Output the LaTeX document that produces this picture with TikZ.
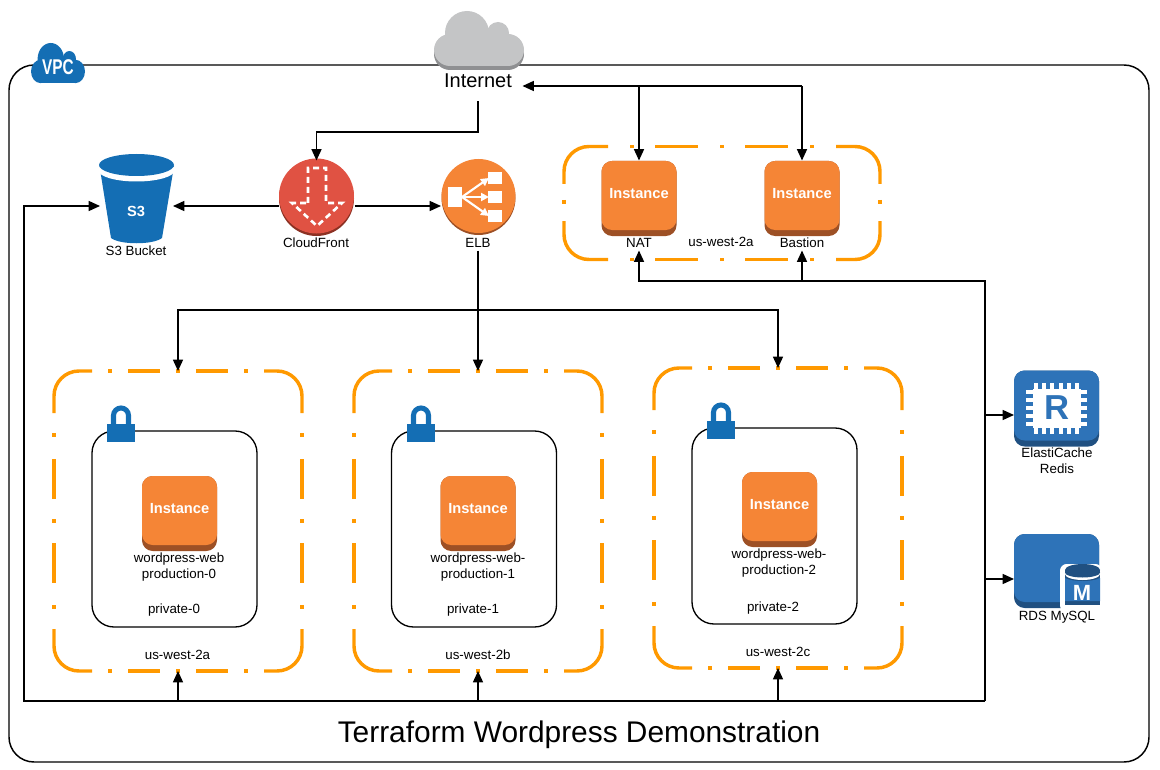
\documentclass[tikz,border=0pt]{standalone}
\usepackage{fontspec}
\setmainfont{Liberation Sans}
\usetikzlibrary{arrows.meta}

\definecolor{awsorange}{RGB}{245,133,54}
\definecolor{awsorangedark}{RGB}{157,80,37}
\definecolor{awsred}{RGB}{224,82,67}
\definecolor{awsreddark}{RGB}{140,49,35}
\definecolor{awsblue}{RGB}{20,110,180}
\definecolor{dbblue}{RGB}{46,115,184}
\definecolor{dbbluedark}{RGB}{32,80,129}
\definecolor{zoneorange}{RGB}{255,153,0}
\definecolor{cloudgrey}{RGB}{196,197,198}
\definecolor{clouddark}{RGB}{143,144,146}

\def\pxu{0.75pt}

\tikzset{every picture/.style={line width=0.75pt}}
\tikzset{
  conn/.style={line width=1.05pt,-{Triangle[length=8.5pt,width=7.5pt]}},
  wire/.style={line width=1.05pt},
  zoneline/.style={draw=zoneorange,line width=2.6pt,rounded corners=18.75pt},
  zonebox/.style={inner sep=0pt,outer sep=0pt,minimum width=248*\pxu,minimum height=300*\pxu},
  privatebox/.style={draw=black,line width=1pt,rounded corners=16.5pt,inner sep=0pt,minimum width=165*\pxu,minimum height=196*\pxu},
  instancedark/.style={fill=awsorangedark,rounded corners=8pt,inner sep=0pt,minimum width=75*\pxu,minimum height=75*\pxu},
  instancelight/.style={fill=awsorange,rounded corners=8pt,inner sep=0pt,minimum width=75*\pxu,minimum height=69*\pxu},
  instancetext/.style={text=white,font=\fontsize{11}{13}\selectfont\bfseries,inner sep=0pt},
  lbl/.style={font=\fontsize{10}{12}\selectfont,inner sep=0pt,align=center,minimum height=14*\pxu,yshift=-0.75pt},
  lockbase/.style={fill=awsblue,inner sep=0pt,minimum width=28*\pxu,minimum height=18*\pxu},
  dbbox/.style={fill=dbblue,rounded corners=8pt,inner sep=0pt,minimum width=85*\pxu},
  roundicon/.style={circle,inner sep=0pt,minimum size=#1*\pxu},
}

% cloud outline at x, y with x scale, y scale, colour
\newcommand{\cloudblob}[5]{%
\begin{scope}[shift={(#1,#2)},xscale=#3,yscale=#4]
\fill[#5] (-12,-15) circle [radius=22];
\fill[#5] (19,-15) circle [radius=11];
\fill[#5] (-29,2) circle [radius=16];
\fill[#5] (29,2) circle [radius=16];
\fill[#5] (-29,-10) rectangle (29,18);
\end{scope}}

% availability zone frame, name and centre
\newcommand{\zoneframe}[3]{%
\node [zonebox] (#1) at (#2,#3) {};
\begin{scope}[shift={(#2,#3)}]
\draw [zoneline] (-86,-150) -- (-124,-150) -- (-124,-108);
\draw [zoneline] (86,-150) -- (124,-150) -- (124,-108);
\draw [zoneline] (-86,150) -- (-124,150) -- (-124,108);
\draw [zoneline] (86,150) -- (124,150) -- (124,108);
\draw [zoneline] (-70,-150) -- (-66,-150) (-50,-150) -- (-18,-150) (-2,-150) -- (2,-150) (18,-150) -- (50,-150) (66,-150) -- (70,-150);
\draw [zoneline] (-70,150) -- (-66,150) (-50,150) -- (-18,150) (-2,150) -- (2,150) (18,150) -- (50,150) (66,150) -- (70,150);
\draw [zoneline] (-124,-88) -- (-124,-84) (-124,-62) -- (-124,-22) (-124,-2) -- (-124,2) (-124,22) -- (-124,62) (-124,84) -- (-124,88);
\draw [zoneline] (124,-88) -- (124,-84) (124,-62) -- (124,-22) (124,-2) -- (124,2) (124,22) -- (124,62) (124,84) -- (124,88);
\end{scope}}

% EC2 icon, name and centre
\newcommand{\instanceicon}[3]{%
\node [instancedark] (#1) at (#2,#3) {};
\node [instancelight] (#1-top) at (#2,#3-3) {};
\node [instancetext] (#1-text) at (#2,#3-4.5) {Instance};}

% padlock, name and centre of its base
\newcommand{\lockicon}[3]{%
\draw [awsblue,line width=3.8pt] (#2-7.5,#3) -- (#2-7.5,#3-17.5) arc [start angle=180,end angle=360,radius=7.5] -- (#2+7.5,#3);
\node [lockbase] (#1) at (#2,#3) {};}

\begin{document}
\begin{tikzpicture}[x=0.75pt,y=0.75pt,yscale=-1,xscale=1]
\useasboundingbox (0,0) rectangle (1160,770);

% Text Node
\node [draw=black,line width=1.1pt,rounded corners=18.75pt,inner sep=0pt,minimum width=1140*\pxu,minimum height=697*\pxu] (vpcbox) at (579,413.5) {};

% Internet cloud
\cloudblob{479}{52}{1}{1}{clouddark}
\cloudblob{479}{48}{1}{1}{cloudgrey}
\node [font=\fontsize{15}{18}\selectfont,inner sep=0pt,minimum width=88*\pxu,minimum height=40*\pxu] (internet) at (478,81) {Internet};

% VPC badge
\cloudblob{58}{70}{0.6}{0.73}{awsblue}
\node [text=white,font=\fontsize{16}{18}\selectfont\bfseries,inner sep=0pt] (vpc) at (58,67) {\scalebox{0.72}[1]{VPC}};

% S3 bucket
\fill [awsblue] (99.5,166) -- (111,238) .. controls (120,245) and (153,245) .. (162,238) -- (174,166) -- cycle;
\fill [white] (136.5,170) ellipse [x radius=38.5,y radius=11.5];
\fill [awsblue] (136.5,165) ellipse [x radius=37.5,y radius=11];
\node [inner sep=0pt,minimum width=72*\pxu,minimum height=90*\pxu] (s3) at (136.5,199) {};
\node [instancetext] (s3-text) at (136,211) {S3};
\node [lbl] (s3label) at (136,250) {S3 Bucket};

% CloudFront
\node [roundicon=75,fill=awsreddark] (cloudfront) at (316.5,198.5) {};
\node [roundicon=75,fill=awsred] (cloudfront-top) at (316.5,196) {};
\draw [white,line width=2pt,dash pattern=on 4.5pt off 3pt] (308,203) -- (308,168) -- (326,168) -- (326,203) -- (342,203) -- (317,226) -- (292,203) -- cycle;
\node [lbl] (cloudfrontlabel) at (316,242) {CloudFront};

% ELB
\node [roundicon=74,fill=awsorangedark] (elb) at (478.5,198) {};
\node [roundicon=74,fill=awsorange] (elb-top) at (478.5,196) {};
\fill [white] (448,187) rectangle (462,207);
\fill [white] (488,172) rectangle (502,184);
\fill [white] (488,191) rectangle (502,203);
\fill [white] (488,210) rectangle (502,222);
\draw [white,line width=1.6pt,-{Triangle[length=6pt,width=6pt]}] (462,197) -- (489,178);
\draw [white,line width=1.6pt,-{Triangle[length=6pt,width=6pt]}] (462,197) -- (489,197);
\draw [white,line width=1.6pt,-{Triangle[length=6pt,width=6pt]}] (462,197) -- (489,216);
\node [lbl] (elblabel) at (478,242) {ELB};

% Public zone
\node [inner sep=0pt,minimum width=316*\pxu,minimum height=113*\pxu] (zonepublic) at (722,203) {};
\draw [zoneline] (608,146.5) -- (564,146.5) -- (564,184);
\draw [zoneline] (836,146.5) -- (880,146.5) -- (880,184);
\draw [zoneline] (608,259.5) -- (564,259.5) -- (564,221);
\draw [zoneline] (836,259.5) -- (880,259.5) -- (880,221);
\draw [zoneline] (630,146.5) -- (634,146.5) (655,146.5) -- (698,146.5) (720,146.5) -- (724,146.5) (745,146.5) -- (788,146.5) (810,146.5) -- (814,146.5);
\draw [zoneline] (630,259.5) -- (634,259.5) (655,259.5) -- (698,259.5) (720,259.5) -- (724,259.5) (745,259.5) -- (788,259.5) (810,259.5) -- (814,259.5);
\draw [zoneline] (564,200) -- (564,204) (880,200) -- (880,204);
\instanceicon{nat}{639}{198.5}
\instanceicon{bastion}{802}{198.5}
\node [lbl] (natlabel) at (639,242) {NAT};
\node [lbl] (bastionlabel) at (802,242) {Bastion};
\node [lbl] (zonepubliclabel) at (721,241) {us-west-2a};

% Private zones
\zoneframe{zoneA}{178}{521}
\node [privatebox] (privateA) at (174.5,529) {};
\lockicon{lockA}{121}{433}
\instanceicon{webA}{179.5}{513.5}
\node [lbl] (webAlabel) at (179,566) {wordpress-web\\production-0};
\node [lbl] (privateAlabel) at (174,609) {private-0};
\node [lbl] (zoneAlabel) at (177.5,654) {us-west-2a};

\zoneframe{zoneB}{478}{521}
\node [privatebox] (privateB) at (474,529) {};
\lockicon{lockB}{421}{433}
\instanceicon{webB}{478}{513.5}
\node [lbl] (webBlabel) at (478,566) {wordpress-web-\\production-1};
\node [lbl] (privateBlabel) at (473,609) {private-1};
\node [lbl] (zoneBlabel) at (478,654) {us-west-2b};

\zoneframe{zoneC}{778}{518}
\node [privatebox] (privateC) at (774.5,526) {};
\lockicon{lockC}{721}{430}
\instanceicon{webC}{779.5}{509.5}
\node [lbl] (webClabel) at (779,562) {wordpress-web-\\production-2};
\node [lbl] (privateClabel) at (773,607) {private-2};
\node [lbl] (zoneClabel) at (778,651) {us-west-2c};

% ElastiCache
\node [dbbox,fill=dbbluedark,minimum height=76*\pxu] (redis) at (1056.5,408.5) {};
\node [dbbox,minimum height=70*\pxu] (redis-top) at (1056.5,405.5) {};
\draw [white,line width=3.2pt] (1036,383) -- (1036,434) (1044,383) -- (1044,434) (1052,383) -- (1052,434) (1061,383) -- (1061,434) (1069,383) -- (1069,434) (1077,383) -- (1077,434);
\draw [white,line width=3.2pt] (1026,392) -- (1087,392) (1026,400) -- (1087,400) (1026,408) -- (1087,408) (1026,416) -- (1087,416) (1026,424) -- (1087,424);
\fill [white] (1033,389) rectangle (1081,428);
\node [text=dbblue,font=\fontsize{26}{28}\selectfont\bfseries,inner sep=0pt] (redis-text) at (1057,408) {R};
\node [lbl] (redislabel) at (1057,460) {ElastiCache\\Redis};

% RDS
\node [dbbox,fill=dbbluedark,minimum height=74*\pxu] (rds) at (1056.5,571) {};
\node [dbbox,minimum height=68*\pxu] (rds-top) at (1056.5,568) {};
\fill [white,rounded corners=5pt] (1060,612) -- (1060,564) -- (1102,564) -- (1102,612) -- cycle;
\fill [dbbluedark] (1065,570) rectangle (1100,605);
\fill [dbbluedark] (1082.5,570) ellipse [x radius=17.5,y radius=6];
\fill [white] (1082.5,574) ellipse [x radius=17.5,y radius=6];
\fill [dbbluedark] (1082.5,572.5) ellipse [x radius=17.5,y radius=5];
\fill [dbblue] (1065,578) .. controls (1072,582) and (1093,582) .. (1100,578) -- (1100,601) -- (1065,601) -- cycle;
\node [text=white,font=\fontsize{16.5}{18}\selectfont\bfseries,inner sep=0pt] (rds-text) at (1082,593) {M};
\node [lbl] (rdslabel) at (1057,616) {RDS MySQL};

% Title
\node [font=\fontsize{22.4}{26}\selectfont,inner sep=0pt] (title) at (579,735) {Terraform Wordpress Demonstration};

% Routing points
\coordinate (hubNat) at (639,86);
\coordinate (hubBastion) at (802,86);
\coordinate (elbSplit) at (478,310);
\coordinate (busW) at (24,701);
\coordinate (busE) at (985,701);
\coordinate (busN) at (985,281);
\coordinate (feedY) at (0,206);
\coordinate (redisIn) at (1014,415);
\coordinate (rdsIn) at (1014,579);

% Connection
\draw [conn] (internet.south) -- ++(0,30.5) -| (cloudfront.north);
% Connection
\draw [conn] (hubBastion) -- (hubBastion -| internet.east);
% Connection
\draw [conn] (hubNat) -- (nat.north);
% Connection
\draw [conn] (hubBastion) -- (bastion.north);
% Connection
\draw [conn] (cloudfront.west |- feedY) -- (s3.east |- feedY);
% Connection
\draw [conn] (cloudfront.east |- feedY) -- (elb.west |- feedY);
% Connection
\draw [wire] (elblabel.south) -- (elbSplit);
% Connection
\draw [conn] (elbSplit) -- (zoneB.north);
% Connection
\draw [conn] (elbSplit) -| (zoneA.north);
% Connection
\draw [conn] (elbSplit) -| (zoneC.north);
% Connection
\draw [conn] (busE) -- (busW) |- (s3.west |- feedY);
% Connection
\draw [conn] (busE) -- (busN) -| (natlabel.south);
% Connection
\draw [conn] (busN -| bastionlabel.south) -- (bastionlabel.south);
% Connection
\draw [conn] (busE |- redisIn) -- (redisIn);
% Connection
\draw [conn] (busE |- rdsIn) -- (rdsIn);
% Connection
\draw [conn] (busW -| zoneA.south) -- (zoneA.south);
% Connection
\draw [conn] (busW -| zoneB.south) -- (zoneB.south);
% Connection
\draw [conn] (busW -| zoneC.south) -- (zoneC.south);

\end{tikzpicture}
\end{document}
